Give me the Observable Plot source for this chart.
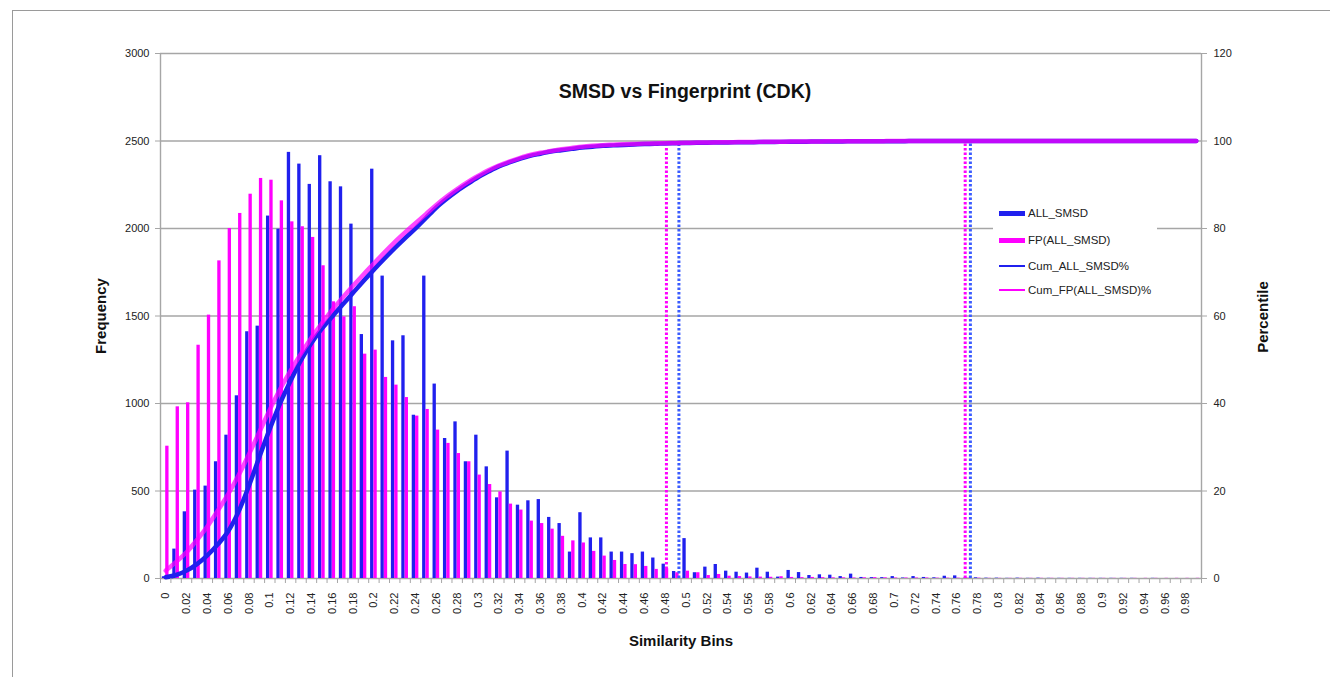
<!DOCTYPE html>
<html><head><meta charset="utf-8">
<script src="https://cdn.jsdelivr.net/npm/d3@7"></script>
<script src="https://cdn.jsdelivr.net/npm/@observablehq/plot@0.6"></script>
<style>
body{margin:0;background:#fff;font-family:"Liberation Sans",Arial,sans-serif;}
#wrap{position:relative;width:1330px;height:677px;overflow:hidden;background:#fff;}
#chart{position:absolute;left:0;top:0;}
#border{position:absolute;left:12px;top:10px;width:1330px;height:700px;border-top:1.5px solid #9a9a9a;border-left:1.5px solid #9a9a9a;pointer-events:none;}
#title{position:absolute;left:435px;width:500px;top:80px;text-align:center;font-weight:bold;font-size:19.5px;color:#111;}
.axt{position:absolute;font-weight:bold;font-size:15px;color:#111;white-space:nowrap;transform:translate(-50%,-50%);}
.rot{transform:translate(-50%,-50%) rotate(-90deg);}
#legend{position:absolute;left:993px;top:203px;width:164px;height:100px;background:#fff;}
.li{position:absolute;left:0;height:14px;line-height:14px;font-size:11.5px;color:#222;white-space:nowrap;}
.sw{position:absolute;left:6px;width:26px;}
.lt{position:absolute;left:35px;top:0;}
</style></head>
<body><div id="wrap"><div id="chart"></div><div id="border"></div>
<div id="title">SMSD vs Fingerprint (CDK)</div>
<div class="axt rot" style="left:100px;top:316px;">Frequency</div>
<div class="axt rot" style="left:1262px;top:317px;">Percentile</div>
<div class="axt" style="left:681px;top:640px;">Similarity Bins</div>
<div id="legend"></div>
</div>
<script>
const bins = [0,0.01,0.02,0.03,0.04,0.05,0.06,0.07,0.08,0.09,
0.1,0.11,0.12,0.13,0.14,0.15,0.16,0.17,0.18,0.19,
0.2,0.21,0.22,0.23,0.24,0.25,0.26,0.27,0.28,0.29,
0.3,0.31,0.32,0.33,0.34,0.35,0.36,0.37,0.38,0.39,
0.4,0.41,0.42,0.43,0.44,0.45,0.46,0.47,0.48,0.49,
0.5,0.51,0.52,0.53,0.54,0.55,0.56,0.57,0.58,0.59,
0.6,0.61,0.62,0.63,0.64,0.65,0.66,0.67,0.68,0.69,
0.7,0.71,0.72,0.73,0.74,0.75,0.76,0.77,0.78,0.79,
0.8,0.81,0.82,0.83,0.84,0.85,0.86,0.87,0.88,0.89,
0.9,0.91,0.92,0.93,0.94,0.95,0.96,0.97,0.98,0.99];

const allSMSD = [10,168,381,505,528,667,819,1044,1410,1442,
2071,1996,2435,2368,2252,2416,2267,2238,2025,1394,
2339,1728,1358,1387,933,1728,1111,800,895,667,
819,638,461,728,419,444,451,349,314,151,
376,232,232,151,151,142,151,117,82,40,
228,33,65,80,42,36,31,59,36,8,
46,34,17,21,19,11,25,6,5,5,
11,3,11,6,4,13,15,3,4,2,
2,1,2,1,2,1,1,1,1,1,
1,1,1,1,0,1,0,0,0,0];

const fpAllSMSD = [756,981,1004,1333,1505,1815,2000,2086,2196,2286,
2276,2158,2038,2010,1949,1787,1581,1495,1553,1282,
1305,1149,1105,1034,928,966,848,772,714,667,
591,537,495,425,391,328,314,282,241,215,
203,155,128,103,80,79,69,52,56,33,
42,33,17,23,13,11,9,8,7,10,
6,5,6,5,4,4,3,4,5,4,
3,3,3,3,2,2,2,2,2,1,
1,1,1,1,1,1,1,1,1,1,
1,1,1,1,1,1,1,1,1,1];

const cumAllPct = [0.3,0.8,1.8,3.3,5.3,7.8,10.8,15.3,21.2,27.8,
34.2,40.1,45.2,49.9,53.8,57.1,59.9,62.6,65.3,68.0,
70.6,73.1,75.5,77.8,80.0,82.4,84.8,86.8,88.6,90.2,
91.7,93.0,94.2,95.1,95.9,96.6,97.1,97.6,97.9,98.2,
98.5,98.7,98.9,99.0,99.1,99.2,99.3,99.35,99.45,99.5,
99.55,99.6,99.62,99.65,99.68,99.7,99.72,99.75,99.77,99.8,
99.82,99.84,99.86,99.88,99.9,99.91,99.92,99.93,99.94,99.95,
99.96,99.97,99.98,99.98,99.99,99.99,100,100,100,100,
100,100,100,100,100,100,100,100,100,100,
100,100,100,100,100,100,100,100,100,100];

const cumFpPct = [1.8,3.8,6.0,8.8,11.9,15.5,19.3,23.6,28.4,33.5,
38.6,43.3,47.5,51.4,55.0,58.3,61.4,64.2,66.9,69.5,
72.0,74.5,76.9,79.1,81.2,83.3,85.4,87.3,89.0,90.6,
92.0,93.3,94.4,95.3,96.1,96.8,97.3,97.7,98.1,98.4,
98.7,98.9,99.05,99.15,99.25,99.33,99.4,99.45,99.5,99.55,
99.6,99.63,99.66,99.7,99.72,99.75,99.77,99.8,99.82,99.84,
99.86,99.88,99.9,99.91,99.92,99.93,99.94,99.95,99.96,99.97,
99.98,99.98,99.99,99.99,100,100,100,100,100,100,
100,100,100,100,100,100,100,100,100,100,
100,100,100,100,100,100,100,100,100,100];

const xTickValues = [0,0.02,0.04,0.06,0.08,0.1,0.12,0.14,0.16,0.18,0.2,0.22,0.24,0.26,0.28,0.3,0.32,0.34,0.36,0.38,0.4,0.42,0.44,0.46,0.48,0.5,0.52,0.54,0.56,0.58,0.6,0.62,0.64,0.66,0.68,0.7,0.72,0.74,0.76,0.78,0.8,0.82,0.84,0.86,0.88,0.9,0.92,0.94,0.96,0.98];
const xTickLabels = ["0","0.02","0.04","0.06","0.08","0.1","0.12","0.14","0.16","0.18","0.2","0.22","0.24","0.26","0.28","0.3","0.32","0.34","0.36","0.38","0.4","0.42","0.44","0.46","0.48","0.5","0.52","0.54","0.56","0.58","0.6","0.62","0.64","0.66","0.68","0.7","0.72","0.74","0.76","0.78","0.8","0.82","0.84","0.86","0.88","0.9","0.92","0.94","0.96","0.98"];
const freqTicks = [0,500,1000,1500,2000,2500,3000];
const freqTickLabels = ["0","500","1000","1500","2000","2500","3000"];
const pctTickLabels = ["0","20","40","60","80","100","120"];

const fpMarkX = [0.481, 0.768];
const fpMarkTopPct = [98.3, 100];
const allMarkX = [0.493, 0.773];
const allMarkTopPct = [99.8, 100];

const seriesNames = ["ALL_SMSD","FP(ALL_SMSD)","Cum_ALL_SMSD%","Cum_FP(ALL_SMSD)%"];

// ---- build
const BLUE = "#2020ee", PINK = "#ff00ff", DOTBLUE = "#3a5cff", GRID = "#a6a6a6";
const PCT = 3000 / 120;
const binW = 0.01, barW = 0.0032;
const xDomain = [bins[0] - binW/2, bins[bins.length-1] + binW/2];
const rows = bins.map((b, i) => ({bin: b, all: allSMSD[i], fp: fpAllSMSD[i], cAll: cumAllPct[i], cFp: cumFpPct[i]}));
const fpMarks = fpMarkX.map((x, i) => ({x, top: fpMarkTopPct[i]}));
const allMarks = allMarkX.map((x, i) => ({x, top: allMarkTopPct[i]}));
const labelMap = new Map(xTickValues.map((v, i) => [v, xTickLabels[i]]));
const freqMap = new Map(freqTicks.map((v, i) => [v, freqTickLabels[i]]));
const pctMap = new Map(freqTicks.map((v, i) => [v, pctTickLabels[i]]));
const boundaries = bins.map(b => b - binW/2).concat([xDomain[1]]);

const chart = Plot.plot({
  width: 1330, height: 677,
  marginLeft: 160, marginRight: 129, marginTop: 53, marginBottom: 99,
  x: {type: "linear", domain: xDomain},
  y: {domain: [0, 3000]},
  style: {fontFamily: "Liberation Sans, Arial, sans-serif", fontSize: "11px", color: "#222", background: "transparent"},
  marks: [
    Plot.ruleY(freqTicks, {stroke: GRID, strokeWidth: 1.4}),
    Plot.ruleX([xDomain[0], xDomain[1]], {stroke: GRID, strokeWidth: 1.4}),
    Plot.rectY(rows, {x1: d => d.bin - barW, x2: d => d.bin, y: "all", fill: BLUE}),
    Plot.rectY(rows, {x1: d => d.bin, x2: d => d.bin + barW, y: "fp", fill: PINK}),
    Plot.ruleX(fpMarks, {x: "x", y1: 0, y2: d => d.top * PCT, stroke: PINK, strokeWidth: 3, strokeDasharray: "2.5,2"}),
    Plot.ruleX(allMarks, {x: "x", y1: 0, y2: d => d.top * PCT, stroke: DOTBLUE, strokeWidth: 3, strokeDasharray: "2.5,2"}),
    Plot.line(rows, {x: "bin", y: d => d.cAll * PCT, stroke: BLUE, strokeWidth: 4.5, curve: "monotone-x"}),
    Plot.line(rows, {x: "bin", y: d => d.cFp * PCT, stroke: PINK, strokeWidth: 4.5, strokeOpacity: 0.72, curve: "monotone-x"}),
    Plot.axisY(freqTicks, {anchor: "left", tickSize: 5, tickPadding: 6, stroke: GRID, fill: "#222", tickFormat: d => freqMap.get(d), label: null}),
    Plot.axisY(freqTicks, {anchor: "right", tickSize: 5, tickPadding: 7, stroke: GRID, fill: "#222", tickFormat: d => pctMap.get(d), label: null}),
    Plot.axisX(boundaries, {anchor: "bottom", tickSize: 5, stroke: GRID, tickFormat: () => "", label: null}),
    Plot.axisX(xTickValues, {anchor: "bottom", tickSize: 0, tickPadding: 14, tickRotate: -90, fill: "#222", tickFormat: d => labelMap.get(d), label: null})
  ]
});
document.getElementById("chart").appendChild(chart);

// legend
const legend = document.getElementById("legend");
const legendStyles = [
  {color: BLUE, h: 5},
  {color: PINK, h: 5},
  {color: BLUE, h: 2},
  {color: PINK, h: 2}
];
const rowCenters = [10, 37, 63, 87];
seriesNames.forEach((name, i) => {
  const item = document.createElement("div");
  item.className = "li";
  item.style.top = (rowCenters[i] - 7) + "px";
  item.style.width = "164px";
  const sw = document.createElement("div");
  sw.className = "sw";
  sw.style.height = legendStyles[i].h + "px";
  sw.style.top = (7 - legendStyles[i].h / 2) + "px";
  sw.style.background = legendStyles[i].color;
  const t = document.createElement("div");
  t.className = "lt";
  t.textContent = name;
  item.appendChild(sw); item.appendChild(t);
  legend.appendChild(item);
});
</script>
</body></html>
